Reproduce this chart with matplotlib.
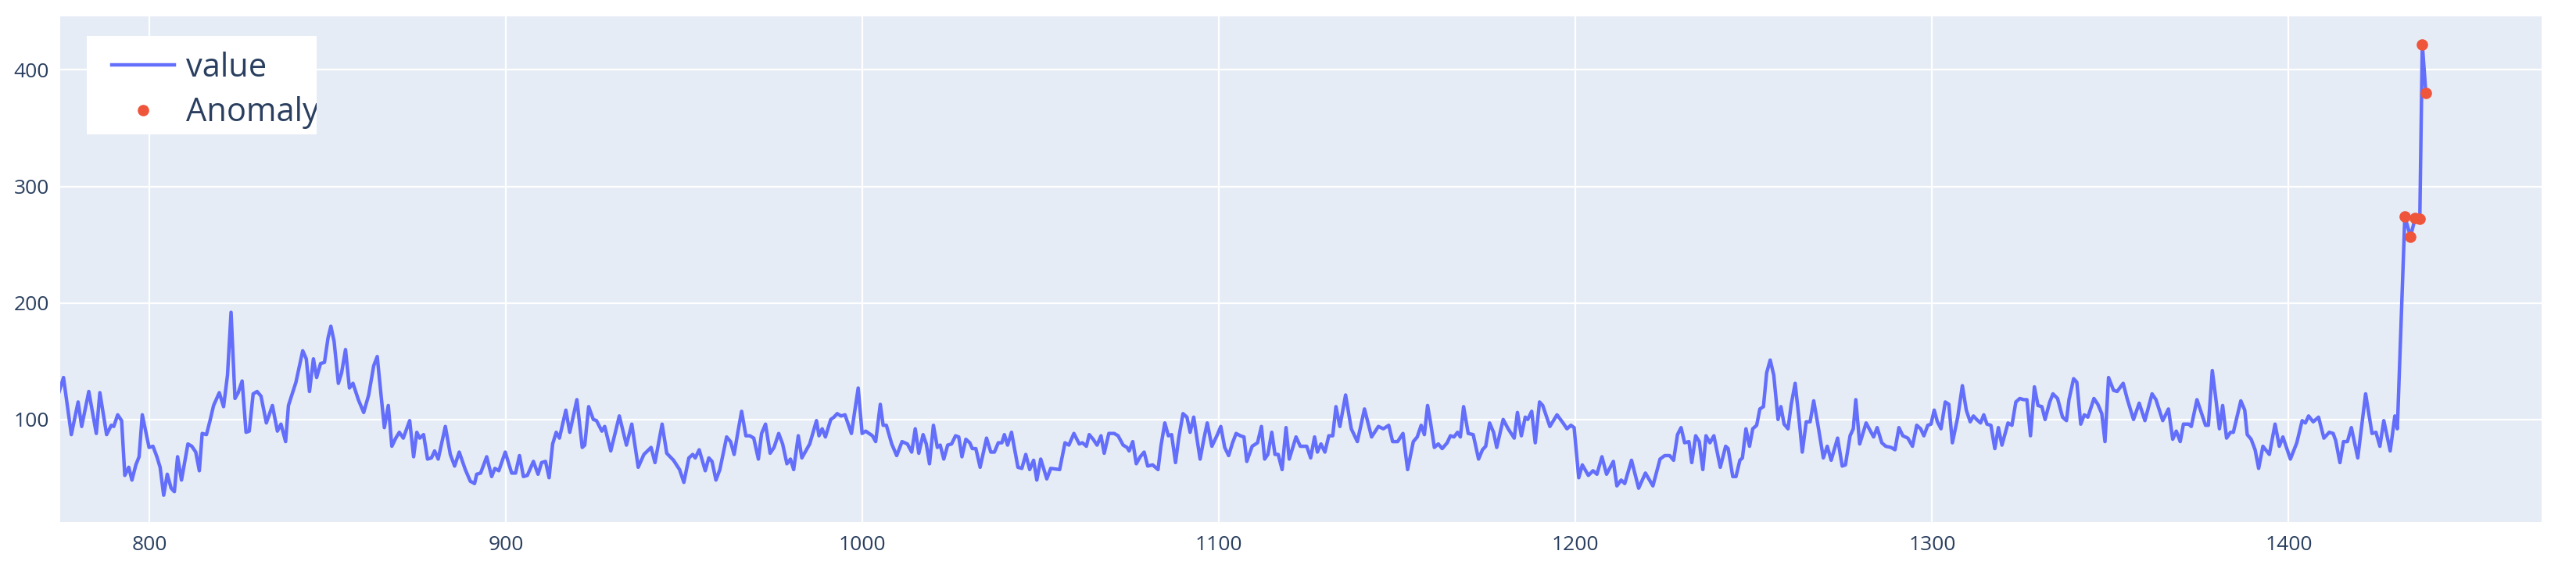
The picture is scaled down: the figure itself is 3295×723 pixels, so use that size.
import matplotlib
matplotlib.use("Agg")
import matplotlib.pyplot as plt
from matplotlib.patches import Rectangle

# series (vertices of the line: index, value)
idx = [774.3, 775.9, 778.1, 780.0, 781.0, 783.0, 785.1, 786.1, 788.0, 789.3, 790.0, 791.1, 792.2, 793.1, 794.2, 795.1, 796.2, 797.1, 798.0, 799.9,
       801.0, 802.1, 803.0, 804.0, 805.0, 806.1, 807.0, 807.9, 809.0, 810.8, 811.9, 813.0, 814.0, 814.8, 816.0, 817.0, 818.0, 819.6, 820.8, 821.9,
       822.9, 824.0, 824.9, 826.0, 827.1, 828.0, 829.1, 830.2, 831.3,
       832.8, 834.5, 835.9, 836.9, 838.2, 839.0, 841.1, 843.0, 844.0, 844.9, 846.0, 846.9, 848.0, 849.1, 850.1, 850.9, 851.8, 853.0, 853.9, 855.0,
       856.1, 857.1, 858.6, 860.1, 861.5, 862.9, 863.9, 865.0, 865.9, 867.0, 868.0, 869.1, 870.1, 871.2, 873.0, 874.1, 875.0, 875.8, 876.9, 878.0,
       879.1, 880.0, 881.0, 883.0, 884.4, 885.6, 886.9, 888.6, 890.0,
       891.2, 891.8, 892.9, 894.6, 896.0, 896.9, 898.0, 899.8, 901.6, 902.7, 903.8, 904.9, 906.0, 907.7, 909.0, 910.0, 911.1, 912.1, 913.1, 914.1,
       915.0, 916.8, 917.9, 919.9, 921.4, 922.1, 923.2, 924.5, 925.4, 926.9, 927.7, 929.4, 931.8, 933.8, 935.3, 937.1, 938.7, 940.7, 941.8, 943.8,
       945.1, 947.0,
       948.7, 949.9, 951.3, 952.4, 953.1, 954.2, 955.9, 956.9, 957.8, 958.9, 960.0, 961.9, 963.0, 964.0, 965.1, 966.1, 967.3, 968.4, 969.5, 970.8,
       971.7, 972.8, 974.1, 975.2, 976.5, 977.6, 978.8, 979.8, 980.7, 982.0, 983.0, 985.2, 987.1, 987.8, 988.7, 989.6, 991.1, 992.0, 992.9, 994.0,
       995.1, 996.9, 998.8, 999.9, 1000.9, 1002.8, 1003.7, 1005.0,
       1005.8, 1006.7, 1008.2, 1009.6, 1011.1, 1012.6, 1013.8, 1014.8, 1015.8, 1017.0, 1017.9, 1018.8, 1019.9, 1021.0, 1021.8, 1022.8, 1023.9, 1025.0,
       1026.1, 1027.0, 1027.9, 1029.0, 1030.1, 1030.8, 1031.8, 1033.0, 1034.8, 1036.0, 1037.0, 1038.1, 1039.1, 1039.8, 1040.7, 1041.8, 1043.6,
       1044.7, 1045.8, 1046.9, 1048.0, 1048.9, 1050.0, 1051.7, 1052.8, 1055.3, 1056.8, 1057.9, 1059.3, 1060.8, 1061.7, 1062.8,
       1063.6, 1064.7, 1065.8, 1066.9, 1067.8, 1069.1, 1070.6, 1071.7, 1073.1, 1074.2, 1074.8, 1075.8, 1076.8, 1077.9, 1079.0, 1080.0, 1081.4,
       1082.9, 1083.7, 1084.8, 1085.8, 1086.7, 1087.8, 1088.7, 1089.9, 1091.0, 1091.9, 1092.9, 1093.8, 1094.7, 1095.8, 1096.7, 1098.0, 1099.4,
       1100.5, 1101.6, 1102.7, 1103.8, 1104.8, 1106.0, 1107.0, 1107.8, 1109.3, 1110.8, 1111.9, 1112.8, 1113.7, 1114.8, 1115.7, 1116.6, 1117.7,
       1118.8, 1119.7,
       1121.6, 1122.8, 1124.6, 1125.7, 1126.8, 1127.6, 1128.6, 1129.7, 1130.8, 1131.9, 1132.8, 1133.9, 1135.5, 1137.1, 1138.8, 1140.8, 1142.8,
       1144.7, 1146.1, 1147.6, 1148.7, 1150.1, 1151.6, 1152.9, 1154.5, 1155.6, 1156.7, 1157.6, 1158.5, 1159.3, 1160.4, 1161.5, 1162.6, 1164.0,
       1164.9, 1165.9, 1166.9, 1167.7, 1168.6, 1169.9, 1171.3, 1172.8, 1173.9, 1174.8, 1175.9, 1177.0,
       1177.9, 1179.7, 1181.1, 1182.8, 1183.7, 1184.8, 1185.9, 1186.6, 1187.7, 1188.7, 1189.9, 1190.8, 1192.8, 1194.8, 1196.5, 1197.6, 1198.7,
       1199.6, 1200.9, 1201.9, 1203.6, 1204.9, 1206.0, 1207.4, 1208.7, 1210.6, 1211.6, 1212.8, 1213.8, 1215.7, 1217.7, 1219.6, 1221.7, 1223.7,
       1225.0, 1226.4, 1227.5, 1228.6, 1229.6, 1230.6, 1231.8, 1232.6, 1233.7, 1234.7, 1235.7,
       1236.6, 1237.7, 1238.8, 1240.6, 1242.1, 1242.8, 1244.1, 1245.0, 1246.1, 1246.8, 1247.8, 1248.8, 1249.7, 1250.8, 1251.7, 1252.7, 1253.6,
       1254.6, 1255.6, 1256.8, 1257.6, 1258.5, 1259.6, 1260.5, 1261.6, 1262.7, 1263.6, 1264.7, 1265.8, 1266.8, 1268.0, 1269.5, 1270.6, 1271.7,
       1273.5, 1274.8, 1275.7, 1277.0, 1277.9, 1278.6, 1279.7, 1281.5, 1283.6, 1284.6, 1285.9, 1287.0, 1288.5, 1289.6, 1290.7, 1291.8, 1293.2,
       1294.5, 1295.7, 1296.8, 1297.7, 1298.8, 1299.7, 1300.6, 1301.5, 1302.5, 1303.7, 1304.7, 1305.7, 1307.2, 1308.5, 1309.6, 1310.7, 1311.6,
       1312.5, 1313.6, 1314.5, 1315.4, 1316.5, 1317.6, 1318.6, 1319.6, 1321.3, 1322.4, 1323.5, 1324.6, 1325.7, 1326.6, 1327.6, 1328.7, 1329.7,
       1330.8, 1331.7, 1333.0, 1333.9, 1335.2, 1336.6, 1337.7, 1338.4, 1339.7, 1340.6, 1341.7, 1342.7, 1343.7, 1345.4, 1346.5, 1347.6, 1348.5,
       1349.5, 1350.9,
       1351.9, 1353.6, 1354.8, 1356.5, 1358.1, 1359.7, 1361.7, 1362.8, 1364.7, 1366.3, 1367.5, 1368.5, 1369.6, 1370.5, 1372.0, 1372.7, 1374.3,
       1375.6, 1376.7, 1377.5, 1378.6, 1379.7, 1380.6, 1381.5, 1382.6, 1383.7, 1384.5, 1386.6, 1387.7, 1388.4, 1389.5, 1390.6, 1391.6, 1392.8,
       1394.6, 1396.2, 1397.4, 1398.4, 1400.5, 1402.3, 1403.8, 1404.7, 1405.6, 1406.9, 1408.4,
       1409.9, 1411.4, 1412.5, 1413.2, 1414.4, 1415.4, 1416.5, 1417.6, 1419.4, 1421.6, 1423.4, 1424.5, 1425.6, 1426.7, 1428.5, 1429.8, 1430.5,
       1432.6, 1434.2, 1435.5, 1436.8, 1437.5, 1438.5]

value = [120, 136, 87, 115, 94, 124, 88, 123, 87, 95, 94, 104, 99, 52, 59, 48, 61, 68, 104, 76,
         77, 68, 59, 35, 53, 41, 38, 68, 48, 79, 77, 72, 56, 88, 87, 99, 112, 123, 111, 138,
         192, 118, 123, 133, 89, 90, 122, 124, 120,
         97, 112, 90, 96, 81, 112, 132, 159, 152, 124, 152, 136, 148, 149, 170, 180, 167, 131, 140, 160,
         127, 131, 117, 106, 121, 146, 154, 120, 93, 112, 77, 84, 89, 84, 99, 68, 89, 84, 87, 66,
         67, 73, 66, 94, 70, 60, 72, 57, 47,
         45, 53, 54, 68, 51, 58, 56, 72, 54, 54, 69, 51, 52, 64, 53, 63, 64, 50, 79, 89,
         84, 108, 89, 117, 76, 78, 111, 100, 99, 90, 94, 73, 103, 78, 96, 59, 70, 76, 63, 96,
         71, 65,
         57, 46, 67, 70, 67, 74, 56, 67, 64, 48, 57, 85, 81, 70, 90, 107, 86, 86, 84, 66,
         88, 96, 71, 76, 88, 79, 62, 66, 57, 86, 67, 79, 99, 86, 92, 85, 100, 102, 105, 103,
         104, 88, 127, 88, 90, 86, 81, 113,
         95, 95, 79, 69, 81, 79, 72, 92, 71, 87, 79, 62, 95, 76, 78, 66, 78, 79,
         86, 85, 68, 83, 80, 75, 75, 59, 84, 72, 72, 80, 80, 87, 78, 89, 59,
         58, 70, 57, 65, 48, 66, 49, 58, 57, 80, 78, 88, 79, 80, 77,
         87, 83, 78, 86, 71, 88, 88, 86, 78, 76, 73, 81, 62, 68, 72, 60, 61,
         57, 77, 97, 86, 87, 63, 84, 105, 102, 89, 102, 84, 66, 84, 97, 77, 86,
         94, 76, 69, 80, 88, 86, 85, 64, 77, 80, 94, 66, 70, 89, 70, 70, 57,
         93, 66,
         85, 77, 77, 67, 85, 72, 79, 72, 86, 86, 111, 94, 121, 92, 81, 109, 85,
         94, 92, 95, 81, 81, 88, 57, 81, 85, 95, 87, 112, 98, 76, 79, 75, 80,
         86, 85, 89, 85, 111, 88, 87, 66, 74, 77, 97, 89,
         76, 100, 92, 84, 106, 86, 102, 100, 107, 80, 115, 112, 94, 104, 97, 92, 95,
         93, 50, 61, 52, 56, 53, 68, 53, 64, 43, 48, 45, 65, 41, 54, 43, 66,
         69, 69, 65, 87, 93, 80, 81, 63, 86, 81, 57,
         86, 80, 86, 59, 77, 75, 51, 51, 65, 67, 92, 77, 92, 95, 109, 111, 140,
         151, 138, 100, 111, 96, 92, 113, 131, 100, 72, 98, 98, 116, 95, 67, 77, 65,
         84, 60, 61, 86, 92, 117, 79, 97, 85, 93, 80, 77, 76, 74, 93, 86, 84,
         77, 95, 92, 86, 95, 96, 108, 98, 92, 115, 113, 80, 102, 129, 108, 98, 103,
         100, 97, 104, 96, 95, 75, 93, 78, 97, 95, 115, 118, 117, 117, 86, 128, 112,
         111, 100, 115, 122, 118, 102, 99, 117, 135, 132, 96, 104, 102, 118, 113, 105, 81,
         136, 125,
         124, 131, 117, 100, 114, 99, 122, 117, 99, 109, 83, 90, 81, 96, 96, 94, 117,
         105, 95, 95, 142, 115, 92, 112, 84, 89, 89, 116, 108, 87, 83, 74, 58, 77,
         70, 96, 77, 85, 66, 80, 99, 97, 103, 98, 102,
         84, 89, 88, 82, 63, 81, 81, 93, 67, 122, 88, 89, 77, 99, 73, 103, 92,
         274, 257, 273, 272, 422, 380]

anomaly_idx = [1432.6, 1434.2, 1435.5, 1436.8, 1437.5, 1438.5]
anomaly_value = [274, 257, 273, 272, 422, 380]

x_ticks = [800, 900, 1000, 1100, 1200, 1300, 1400]
y_ticks = [100, 200, 300, 400]

plt.rcParams['font.family'] = ['Open Sans', 'DejaVu Sans']

fig = plt.figure(figsize=(32.95, 7.23), dpi=100, facecolor='white')
ax = fig.add_axes([0.0234, 0.0761, 0.9633, 0.895])
ax.set_facecolor('#E5ECF6')

ax.plot(idx, value, color='#636EFA', linewidth=3.2, label='value', zorder=3, solid_joinstyle='round')
ax.plot(anomaly_idx, anomaly_value, linestyle='none', marker='o', markersize=9.5,
        color='#EF553B', label='Anomaly', zorder=4)

ax.set_xlim(775, 1471)
ax.set_ylim(12, 446)
ax.set_xticks(x_ticks)
ax.set_yticks(y_ticks)
ax.grid(True, color='white', linewidth=1.6, zorder=0)
ax.set_axisbelow(True)
for s in ax.spines.values():
    s.set_visible(False)
ax.tick_params(length=0, labelsize=19, labelcolor='#2a3f5f')
ax.tick_params(axis='x', pad=12)
ax.tick_params(axis='y', pad=10)

# plotly-like legend box: white panel, text cut at its right edge
box = Rectangle((0.0107, 0.7666), 0.0926, 0.1948, transform=ax.transAxes,
                facecolor='white', edgecolor='none', zorder=5)
ax.add_patch(box)
leg = ax.legend(loc='upper left', bbox_to_anchor=(0.0208, 0.931), borderaxespad=0, borderpad=0,
                fontsize=30, frameon=False, handlelength=1.92, handletextpad=0.35, labelspacing=0.38)
leg.set_zorder(6)
for t in leg.get_texts():
    t.set_color('#2a3f5f')
    t.set_clip_path(box)

fig.savefig('out.png', dpi=100)
